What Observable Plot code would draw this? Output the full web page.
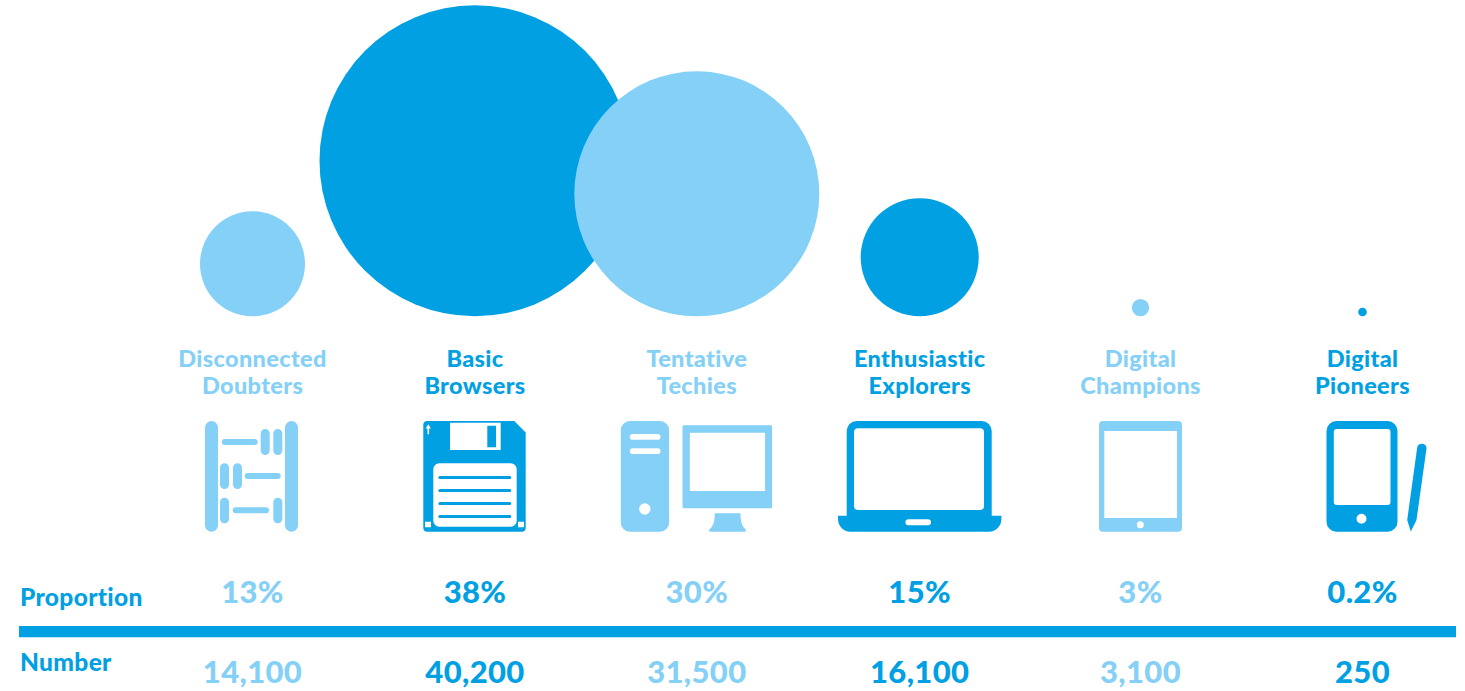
<!DOCTYPE html>
<html>
<head>
<meta charset="utf-8">
<title>Digital segments</title>
<script src="https://cdn.jsdelivr.net/npm/d3@7"></script>
<script src="https://cdn.jsdelivr.net/npm/@observablehq/plot@0.6"></script>
<style>
  html, body { margin: 0; padding: 0; background: #fff; overflow: hidden; }
  svg { display: block; }
  svg text { font-variant-ligatures: none; letter-spacing: 0.35px; }
</style>
</head>
<body>
<div id="chart"></div>
<script>
// Segment table, one small list per column of the graphic.
const segments = ["Disconnected\nDoubters", "Basic\nBrowsers", "Tentative\nTechies", "Enthusiastic\nExplorers", "Digital\nChampions", "Digital\nPioneers"];
const proportions = ["13%", "38%", "30%", "15%", "3%", "0.2%"];
const numbers = [14100, 40200, 31500, 16100, 3100, 250];
const iconNames = ["abacus", "floppy", "computer", "laptop", "tablet", "phone"];

const DARK = "#00a0e3";
const LIGHT = "#84d0f6";
const FONT = "Lato, sans-serif";
const tone = (d) => (d.col % 2 ? DARK : LIGHT);

const rows = segments.map((label, col) => ({
  col, label,
  proportion: proportions[col],
  number: numbers[col],
  icon: iconNames[col]
}));

// Bubble size encoding: a piecewise radius per headcount.
const rDomain = [250, 3100, 14100, 16100, 31500, 40200];
const rRange = [4.3, 8.7, 52.5, 59, 122.5, 155.5];
const radius = d3.scaleLinear().domain(rDomain).range(rRange);
const bubbleFloor = 315.8;

// Rounded rectangle subpath, used to assemble the icon glyphs.
const rr = (x, y, w, h, r) =>
  `M${x + r} ${y}H${x + w - r}A${r} ${r} 0 0 1 ${x + w} ${y + r}V${y + h - r}A${r} ${r} 0 0 1 ${x + w - r} ${y + h}H${x + r}A${r} ${r} 0 0 1 ${x} ${y + h - r}V${y + r}A${r} ${r} 0 0 1 ${x + r} ${y}Z`;
const disc = (cx, cy, r) => `M${cx - r} ${cy}A${r} ${r} 0 1 0 ${cx + r} ${cy}A${r} ${r} 0 1 0 ${cx - r} ${cy}Z`;

// Icon glyphs: even-odd paths in a local frame; `dx` offsets them from the column centre.
const glyphs = {
  abacus: {dx: -47.5, d: [
    rr(0, 0, 13, 110.7, 6.5), rr(80, 0, 13, 110.7, 6.5),
    rr(16.7, 18, 36, 6, 3), rr(55.7, 8, 9, 26, 4.5), rr(68.3, 8, 9, 26, 4.5),
    rr(15, 42.3, 9, 25.7, 4.5), rr(28, 42.3, 9, 25.7, 4.5), rr(39.7, 52, 36, 6, 3),
    rr(15, 76.7, 9, 25.6, 4.5), rr(27.7, 86.3, 36.3, 6, 3), rr(68.3, 76.7, 9, 25.6, 4.5)
  ].join("")},
  floppy: {dx: -51.7, d: [
    "M4 0H91L102.4 11.5V106.7A4 4 0 0 1 98.4 110.7H4A4 4 0 0 1 0 106.7V4A4 4 0 0 1 4 0Z",
    "M26.7 1.7H77.4V29H26.7Z", "M64 4.7H72.7V26.3H64Z",
    rr(10, 42.3, 83.4, 63.4, 6),
    rr(15, 55, 73, 3, 1.5), rr(15, 68, 73, 3, 1.5), rr(15, 81, 73, 3, 1.5), rr(15, 94, 73, 3, 1.5),
    "M1.7 100.7H7.7V106.3H1.7Z", "M94.7 100.7H100.7V106.3H94.7Z",
    "M5 3.3L7.6 7.6H5.8V13.3H4.2V7.6H2.4Z"
  ].join("")},
  computer: {dx: -76, d: [
    rr(0, 0, 48.3, 110.7, 9),
    rr(9, 13, 30.7, 5.7, 2.8), rr(9, 27.3, 30.7, 5.7, 2.8), disc(24, 88, 5.7),
    rr(61.7, 4.3, 89.6, 83, 1.5), "M69 11.7H144.3V70H69Z",
    "M94 92.3H119.7C119.7 100 121 105 124 107.5C126 109.5 125 110.7 123 110.7H90.3C88 110.7 87.3 109.5 89.5 107.5C92.5 105 94 100 94 92.3Z"
  ].join("")},
  laptop: {dx: -81.7, d: [
    "M8.7 94.7V10A10 10 0 0 1 18.7 0H143.7A10 10 0 0 1 153.7 10V94.7H163.4V98C163.4 105 158 110.7 151 110.7H12.4C5.4 110.7 0 105 0 98V94.7Z",
    rr(16, 7.3, 130, 81.7, 4), rr(67.4, 98.3, 25.6, 6, 3)
  ].join("")},
  tablet: {dx: -41.5, d: [
    rr(0, 0, 83, 110.7, 4), "M5.3 10H78V97H5.3Z", disc(41.3, 103.7, 3.5)
  ].join("")},
  phone: {dx: -36, d: [
    rr(0, 0, 71, 110.7, 10), rr(7.3, 8, 56.7, 76, 3), disc(35, 97.7, 5),
    "M90.7 26.5A4.7 4.7 0 0 1 100 27.5L90 99L84.3 110.5L80.7 99Z"
  ].join("")}
};

// Custom mark: places each glyph under its column via the x scale.
function iconMark(index, scales) {
  const g = d3.create("svg:g");
  for (const row of rows) {
    const glyph = glyphs[row.icon];
    g.append("path")
      .attr("transform", `translate(${scales.x(row.col) + 0.5 + glyph.dx},${scales.y(421)})`)
      .attr("d", glyph.d)
      .attr("fill", tone(row))
      .attr("fill-rule", "evenodd");
  }
  return g.node();
}

const textBase = {x: "col", fill: tone, textAnchor: "middle", fontFamily: FONT, fontWeight: 900, lineAnchor: "bottom"};
const rowTitle = {frameAnchor: "left", dx: 0.5, text: (d) => d, textAnchor: "start", fill: DARK, fontFamily: FONT, fontWeight: 900, fontSize: 24.5, lineAnchor: "bottom"};

const chart = Plot.plot({
  width: 1465,
  height: 691,
  marginTop: 0, marginRight: 9, marginBottom: 0, marginLeft: 19,
  style: {background: "#fff", fontFamily: FONT},
  x: {type: "linear", domain: [0, 1, 2, 3, 4, 5], range: [252, 474.5, 696.3, 919.2, 1140, 1362], axis: null},
  y: {type: "identity", axis: null},
  r: {type: "linear", domain: rDomain, range: rRange},
  marks: [
    Plot.dot(rows, {x: "col", y: (d) => bubbleFloor - radius(d.number), r: "number", fill: tone}),
    Plot.text(rows, {...textBase, y: () => 393, text: "label", fontSize: 23.5, lineHeight: 1.12}),
    iconMark,
    Plot.text(rows, {...textBase, y: () => 602.5, text: "proportion", fontSize: 31}),
    Plot.ruleY([631.2], {stroke: DARK, strokeWidth: 11.3}),
    Plot.text(rows, {...textBase, y: () => 682, text: (d) => d3.format(",")(d.number), fontSize: 31}),
    Plot.text(["Proportion"], {...rowTitle, y: () => 605}),
    Plot.text(["Number"], {...rowTitle, y: () => 670})
  ]
});
document.getElementById("chart").append(chart);
</script>
</body>
</html>
